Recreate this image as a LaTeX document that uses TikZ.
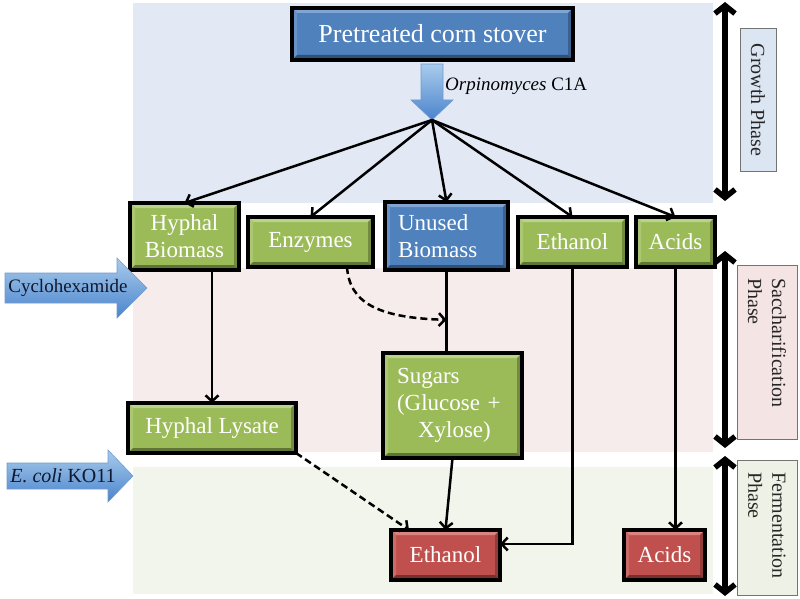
\documentclass[tikz,border=0pt]{standalone}
\usepackage{fontspec}
\setmainfont{Liberation Serif}
\usetikzlibrary{arrows.meta,calc}
\definecolor{gmain}{HTML}{9BBB59}
\definecolor{gtop}{HTML}{BAD38B}
\definecolor{gleft}{HTML}{ABC771}
\definecolor{gright}{HTML}{738B40}
\definecolor{gbot}{HTML}{5F7535}
\definecolor{bmain}{HTML}{4F81BD}
\definecolor{btop}{HTML}{80A5D3}
\definecolor{bleft}{HTML}{6893C9}
\definecolor{bright}{HTML}{3A6190}
\definecolor{bbot}{HTML}{2F5078}
\definecolor{rmain}{HTML}{C0504D}
\definecolor{rtop}{HTML}{D98481}
\definecolor{rleft}{HTML}{CC6A67}
\definecolor{rright}{HTML}{923C3A}
\definecolor{rbot}{HTML}{7A2F2D}
\definecolor{bandblue}{HTML}{E2E9F5}
\definecolor{bandpink}{HTML}{F7ECEC}
\definecolor{bandgreen}{HTML}{F2F5EC}
\definecolor{phblue}{HTML}{DCE6F2}
\definecolor{phpink}{HTML}{F4E4E4}
\definecolor{phgreen}{HTML}{EEF2E6}
\definecolor{arrlight}{HTML}{A9CBEC}
\definecolor{arrdark}{HTML}{4A84CC}
\definecolor{arredge}{HTML}{6F9BD0}
\definecolor{labtext}{HTML}{10172E}
\newcommand\boxfont{\fontsize{23}{27}\selectfont}
\newcommand\titlefont{\fontsize{26}{30}\selectfont}
\newcommand\labfont{\fontsize{19}{23}\selectfont}
\newcommand\phfont{\fontsize{20}{24}\selectfont}
\tikzset{
  bevel/.style n args={4}{path picture={
    \fill[#1] (path picture bounding box.north west) -- (path picture bounding box.north east)
      -- ([shift={(-5pt,-5pt)}]path picture bounding box.north east)
      -- ([shift={(5pt,-5pt)}]path picture bounding box.north west) -- cycle;
    \fill[#2] (path picture bounding box.north west) -- (path picture bounding box.south west)
      -- ([shift={(5pt,5pt)}]path picture bounding box.south west)
      -- ([shift={(5pt,-5pt)}]path picture bounding box.north west) -- cycle;
    \fill[#3] (path picture bounding box.north east) -- (path picture bounding box.south east)
      -- ([shift={(-5pt,5pt)}]path picture bounding box.south east)
      -- ([shift={(-5pt,-5pt)}]path picture bounding box.north east) -- cycle;
    \fill[#4] (path picture bounding box.south west) -- (path picture bounding box.south east)
      -- ([shift={(-5pt,5pt)}]path picture bounding box.south east)
      -- ([shift={(5pt,5pt)}]path picture bounding box.south west) -- cycle;
  }},
  box/.style={draw=black, line width=3.2pt, inner sep=0pt, outer sep=0pt, text=white, font=\boxfont, align=center},
  gbox/.style={box, fill=gmain, bevel={gtop}{gleft}{gright}{gbot}},
  bbox/.style={box, fill=bmain, bevel={btop}{bleft}{bright}{bbot}},
  rbox/.style={box, fill=rmain, bevel={rtop}{rleft}{rright}{rbot}},
  conn/.style={line width=2.5pt, -{Straight Barb[length=6pt,width=13pt]}},
  dconn/.style={conn, dash pattern=on 7pt off 4pt},
  plain/.style={line width=2.5pt},
  phasearrow/.style={line width=5.5pt, {Straight Barb[length=8pt,width=20pt]}-{Straight Barb[length=8pt,width=20pt]}},
  phbox/.style={draw=black!55, line width=1pt, rotate=-90, font=\phfont, text=black!85, inner ysep=0pt, align=left},
  blockarrow/.style={top color=arrlight, bottom color=arrdark, draw=arredge, line width=0.6pt},
}
\begin{document}
\begin{tikzpicture}[x=1pt,y=-1pt]
\useasboundingbox (0,0) rectangle (800,599);
% phase bands
\fill[bandblue] (133,3) rectangle (713,203);
\fill[bandpink] (133,268) rectangle (713,452);
\fill[bandgreen] (133,467) rectangle (713,594);

% title
\node[bbox, minimum width=281pt, minimum height=52pt, font=\titlefont] (pcs) at (432.5,34) {Pretreated corn stover};
\shade[blockarrow] (421,64) -- (443,64) -- (443,100) -- (453,100) -- (432,120) -- (411,100) -- (421,100) -- cycle;
\coordinate (fan) at (432,120);
\node[font=\labfont, anchor=west, inner sep=0pt] (orp) at (445,86) {\textit{Orpinomyces} C1A};

% first row
\node[gbox, minimum width=109pt, minimum height=67pt] (hb) at (184.5,236.5) {Hyphal\\Biomass};
\node[gbox, minimum width=125pt, minimum height=50pt] (enz) at (310.5,242) {Enzymes};
\node[bbox, minimum width=123pt, minimum height=68pt, text width=97pt, inner xsep=13pt, align=left] (ub) at (446.5,236) {Unused\\Biomass};
\node[gbox, minimum width=109pt, minimum height=50pt] (etg) at (572.5,242) {Ethanol};
\node[gbox, minimum width=79pt, minimum height=50pt] (acg) at (675.5,242) {Acids};

% second and third rows
\node[gbox, minimum width=168pt, minimum height=50pt] (hl) at (212,428) {Hyphal Lysate};
\node[gbox, minimum width=139pt, minimum height=105pt, text width=111pt, inner xsep=14pt, align=left] (sug) at (452.5,405.5) {Sugars\\(Glucose +\\\hspace*{21pt}Xylose)};
\node[rbox, minimum width=109pt, minimum height=50pt] (etr) at (445.5,555) {Ethanol};
\node[rbox, minimum width=81pt, minimum height=50pt] (acr) at (664.5,555) {Acids};

% side block arrows
\shade[blockarrow] (5,273) -- (117,273) -- (117,258) -- (147,288) -- (117,318) -- (117,303) -- (5,303) -- cycle;
\node[font=\labfont, text=labtext, inner sep=0pt] (cyc) at (68,288) {Cyclohexamide};
\shade[blockarrow] (7,463) -- (108,463) -- (108,450) -- (133,476) -- (108,502) -- (108,489) -- (7,489) -- cycle;
\node[font=\phfont, text=labtext, inner sep=0pt] (eco) at (63,476) {\textit{E. coli} KO11};

% connectors
\foreach \n in {hb,enz,ub,etg,acg} \draw[conn] (fan) -- (\n.north);
\draw[conn] (hl.north |- hb.south) -- (hl.north);
\coordinate (join) at ($(ub.south)!0.6!(ub.south |- sug.north)$);
\draw[plain] (ub.south) -- (ub.south |- sug.north);
\draw[dconn] ($(enz.south)+(36.5,0)$) .. controls ($(enz.south)+(39,35)$) and ($(join)+(-70,-2)$) .. (join);
\draw[conn] (sug.south) -- (etr.north);
\draw[dconn] (hl.south east) -- ([xshift=18pt]etr.north west);
\draw[conn] (etg.south) |- ($(etr.east)+(0,-11)$);
\draw[conn] (acg.south) -- (acg.south |- acr.north);

% phase indicators
\coordinate (g1) at (725,2);
\coordinate (g2) at (725,201);
\coordinate (s1) at (725,251);
\coordinate (s2) at (725,448);
\coordinate (f1) at (725,456);
\coordinate (f2) at (725,596);
\draw[phasearrow] (g1) -- (g2);
\draw[phasearrow] (s1) -- (s2);
\draw[phasearrow] (f1) -- (f2);
\node[phbox, fill=phblue, minimum width=142pt, minimum height=36pt, align=center] (gp) at (758,100) {Growth Phase};
\node[phbox, fill=phpink, minimum width=174pt, minimum height=60pt, text width=148pt, inner xsep=13pt] (sp) at (767,352) {Saccharification\\Phase};
\node[phbox, fill=phgreen, minimum width=135pt, minimum height=60pt, text width=111pt, inner xsep=12pt] (fp) at (767,527.5) {Fermentation\\Phase};
\end{tikzpicture}
\end{document}
